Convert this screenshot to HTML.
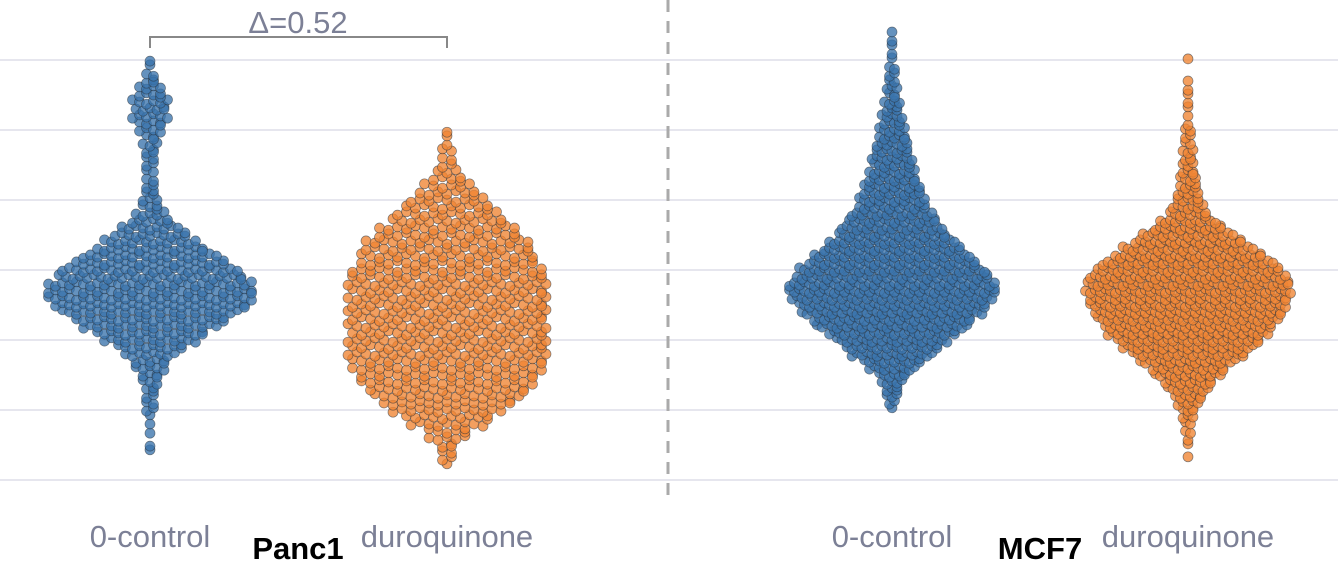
<!DOCTYPE html>
<html><head><meta charset="utf-8"><style>
html,body{margin:0;padding:0;background:#fff;}
svg{display:block;font-family:"Liberation Sans",sans-serif;}
</style></head><body>
<svg id="chart" width="1338" height="574" viewBox="0 0 1338 574">
<g id="grid"></g>
<line x1="668" y1="0" x2="668" y2="497" stroke="#aaa" stroke-width="3" stroke-dasharray="12,9"/>
<g id="marks"></g>
<path d="M150,48 V37 H447 V48" fill="none" stroke="#888" stroke-width="2"/>
<text x="298" y="33" text-anchor="middle" font-size="31" fill="#7c8096">Δ=0.52</text>
<text x="150" y="547" text-anchor="middle" font-size="31" fill="#7c8096">0-control</text>
<text x="298" y="559" text-anchor="middle" font-size="31" font-weight="bold" fill="#000">Panc1</text>
<text x="447" y="547" text-anchor="middle" font-size="31" fill="#7c8096">duroquinone</text>
<text x="892" y="547" text-anchor="middle" font-size="31" fill="#7c8096">0-control</text>
<text x="1040" y="559" text-anchor="middle" font-size="31" font-weight="bold" fill="#000">MCF7</text>
<text x="1188" y="547" text-anchor="middle" font-size="31" fill="#7c8096">duroquinone</text>
</svg>
<script>
// y-axis grid values
const gridValues = [0, 1, 2, 3, 4, 5, 6];
// bin counts (bins of 0.1 units) per group, starting value given in binStarts
const groupNames = ["panc1-control", "panc1-duroquinone", "mcf7-control", "mcf7-duroquinone"];
const binStarts = [0.4, 0.2, 1.0, 0.3];
const panc1Control = [1,1,0,1,1,1,2,2,2,3,3,4,5,6,8,11,14,17,20,23,26,29,30,31,30,28,26,23,20,17,14,12,9,7,5,4,3,3,2,2,2,2,2,3,3,3,4,5,6,6,6,5,4,3,2,1,1];
const panc1Duro = [1,2,2,3,5,6,9,11,13,16,17,19,20,21,22,23,23,23,23,23,23,23,23,23,23,23,23,23,22,21,20,20,19,17,16,14,12,11,9,8,6,5,3,2,2,2,1,1,1];
const mcf7Control = [1,2,3,4,5,7,10,13,17,20,23,27,31,33,37,39,41,43,42,40,38,35,32,29,26,23,21,19,17,15,14,13,12,11,10,9,9,8,7,7,6,5,5,4,4,3,3,2,2,2,1,1,1,1,1];
const mcf7Duro = [1,0,1,1,2,2,3,4,5,7,9,11,14,16,20,24,27,30,33,35,37,39,40,41,42,42,40,38,35,31,27,23,19,15,12,9,7,6,5,5,4,4,3,3,3,2,2,2,1,1,1,1,1,1,1,0,0,1];
const seriesCounts = [panc1Control, panc1Duro, mcf7Control, mcf7Duro];

const NS = "http://www.w3.org/2000/svg";
const yScale = v => 480 - v * 70;
const centers = [150, 447, 892, 1188];
const spacing = [7, 9, 5, 5];
const fills = ["rgba(58,115,172,0.78)", "rgba(240,132,50,0.78)", "rgba(58,115,172,0.78)", "rgba(240,132,50,0.78)"];

const grid = document.getElementById("grid");
gridValues.forEach(v => {
  const l = document.createElementNS(NS, "line");
  l.setAttribute("x1", 0); l.setAttribute("x2", 1338);
  l.setAttribute("y1", yScale(v)); l.setAttribute("y2", yScale(v));
  l.setAttribute("stroke", "#e6e6ee"); l.setAttribute("stroke-width", 2);
  
  
  grid.appendChild(l);
});

const marks = document.getElementById("marks");
seriesCounts.forEach((counts, g) => {
  const grp = document.createElementNS(NS, "g");
  
  
  counts.forEach((n, b) => {
    const v = binStarts[g] + b * 0.1;
    const yc = yScale(v);
    const sh = (b % 2) ? spacing[g] / 2 : 0;
    for (let i = 0; i < n; i++) {
      const off = n > 1 ? sh : 0;
      const x = centers[g] + (i - (n - 1) / 2) * spacing[g] + (i === n - 1 ? -off : off) * (n > 2 ? 1 : 0);
      const y = yc + (((i * 7 + b * 3) % 5) - 2) * 1.1;
      const c = document.createElementNS(NS, "circle");
      c.setAttribute("cx", x.toFixed(1)); c.setAttribute("cy", y.toFixed(1));
      c.setAttribute("r", 5);
      c.setAttribute("fill", fills[g]);
      c.setAttribute("stroke", "rgba(40,50,60,0.6)");
      c.setAttribute("stroke-width", 0.7);
      
      
      grp.appendChild(c);
    }
  });
  marks.appendChild(grp);
});
</script>
</body></html>
